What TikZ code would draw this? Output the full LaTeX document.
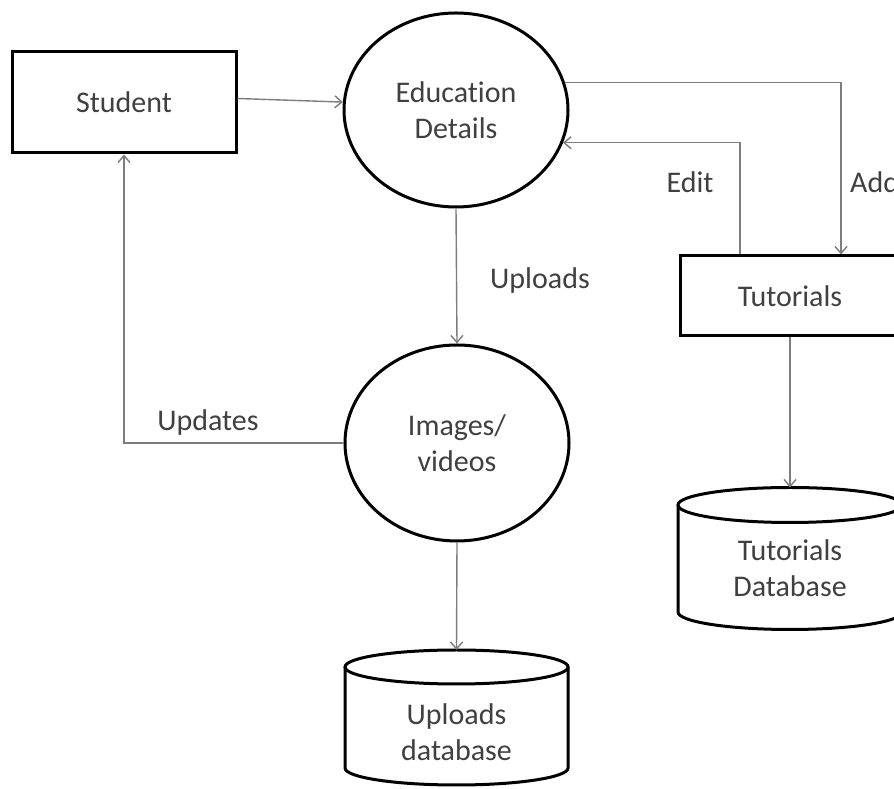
\documentclass[tikz,border=0pt]{standalone}
\usepackage{fontspec}
\setmainfont{Carlito}[Ligatures={NoCommon,NoContextual}]
\usetikzlibrary{shapes.geometric,arrows.meta}
\definecolor{txt}{RGB}{64,64,64}
\definecolor{conn}{RGB}{125,125,125}
\tikzset{
  lbl/.style={text=txt,font=\fontsize{30}{36}\selectfont,align=center,inner sep=0pt},
  procbox/.style={draw=black,line width=3pt,minimum width=#1,text=txt,font=\fontsize{30}{36}\selectfont,inner sep=0pt},
  proc/.style={ellipse,draw=black,line width=3pt,minimum width=224pt,minimum height=196pt,inner sep=0pt,text=txt,font=\fontsize{30}{36}\selectfont,align=center},
  arr/.style={draw=conn,line width=1.4pt,-{Straight Barb[length=7pt,width=12pt]}},
  plain/.style={draw=conn,line width=1.4pt},
  dbline/.style={draw=black,line width=3pt}
}
\begin{document}
\begin{tikzpicture}[x=1pt,y=1pt]
\useasboundingbox (0,0) rectangle (894,789);
\clip (0,0) rectangle (894,789);
\fill[white] (0,0) rectangle (894,789);
% nodes
\node[procbox=224pt,minimum height=101pt] (stu) at (124,686.5) {Student};
\node[proc,minimum height=194pt] (edu) at (456,679) {Education\\Details};
\node[proc] (img) at (457,346) {Images/\\videos};
\node[procbox=220pt,minimum height=80pt] (tut) at (790,493) {Tutorials};
% uploads database cylinder
\draw[dbline,fill=white] (345,122) -- (345,21) arc[start angle=180,end angle=360,x radius=111.5pt,y radius=17pt] -- (568,122);
\draw[dbline] (456.5,122) ellipse[x radius=111.5pt,y radius=17pt];
\node[lbl] (udb) at (456.5,56.5) {Uploads\\database};
\coordinate (udbtop) at (456.5,139);
% tutorials database cylinder
\draw[dbline,fill=white] (678,284) -- (678,177) arc[start angle=180,end angle=360,x radius=112pt,y radius=17.5pt] -- (902,284);
\draw[dbline] (790,284) ellipse[x radius=112pt,y radius=17.5pt];
\node[lbl] (tdb) at (790,220.5) {Tutorials\\Database};
\coordinate (tdbtop) at (790,301.5);
% connectors
\draw[arr] ([yshift=4pt]stu.east) -- (edu.176);
\draw[arr] (edu.14) -| ([xshift=51pt]tut.north);
\draw[arr] ([xshift=-50pt]tut.north) |- (edu.-17);
\draw[arr] (edu.south) -- (img.north);
\draw[arr] (img.west) -| (stu.south);
\draw[arr] (img.south) -- (udbtop);
\draw[arr] (tut.south) -- (tdbtop);
% labels
\node[lbl] (lupl) at (540,508) {Uploads};
\node[lbl] (lupd) at (208,366) {Updates};
\node[lbl] (ledit) at (690,607) {Edit};
\node[lbl,anchor=west] (ladd) at (850,607) {Add};
\end{tikzpicture}
\end{document}
